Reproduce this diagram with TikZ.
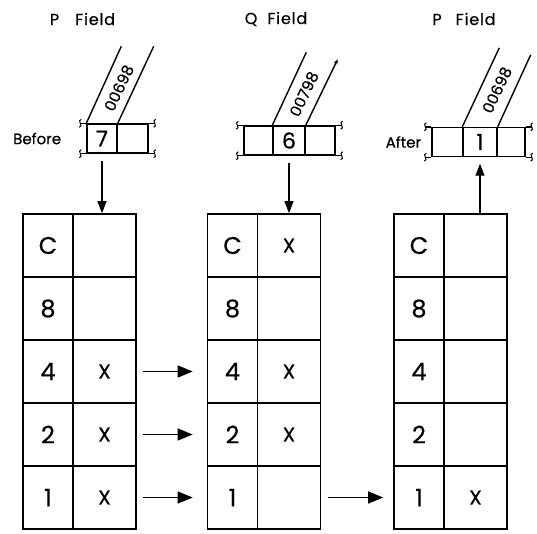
\documentclass[tikz,border=0pt]{standalone}
\usepackage{fontspec}
\setmainfont{Poppins}[FakeBold=0.6]
\usetikzlibrary{positioning, arrows.meta, calc}

\begin{document}
\begin{tikzpicture}[x=1pt, y=-1pt,
  every node/.style={font=\fontsize{22}{24}\selectfont},
  cell/.style={rectangle, draw, line width=1.7pt,
    minimum height=63pt, inner sep=0pt},
  lcell/.style={cell, minimum width=50pt, font=\fontsize{24}{26}\selectfont},
  rcell/.style={cell, minimum width=63pt, font=\fontsize{20}{22}\selectfont},
  reg/.style={rectangle, draw, line width=1.4pt,
    minimum height=29pt, inner sep=0pt},
  band/.style={line width=1.4pt},
  tag/.style={font=\fontsize{15.5}{17}\selectfont, rotate=65, inner sep=1pt},
  title/.style={font=\fontsize{16}{18}\selectfont\addfontfeatures{LetterSpace=5}},
  side/.style={font=\fontsize{15}{18}\selectfont, inner sep=0pt},
  feed/.style={line width=1.4pt, -{Triangle[length=15pt, width=12pt]}},
  drop/.style={line width=1.4pt, -{Triangle[length=12pt, width=9pt]}},
  brk/.pic={\draw[line width=1pt] (1,-4) .. controls (-4,-3) and (4,3) .. (-1,4);}
]
\useasboundingbox (0,0) rectangle (537,533);

% ---- Titles ----
\node[title] (ptitle) at (82.5,19) {P\hspace{16pt}Field};
\node[title] (qtitle) at (276,19) {Q\hspace{10pt}Field};
\node[title] (atitle) at (464,19) {P\hspace{14pt}Field};

% ---- P field, before ----
\node[reg, minimum width=30pt] (pb1) at (102,138.5) {7};
\node[reg, minimum width=31pt] (pb2) at (132.5,138.5) {};
\node[side, left=25pt of pb1] (before) {Before};

% ---- Q field ----
\node[reg, minimum width=29pt] (qb1) at (258.5,140.5) {};
\node[reg, minimum width=32pt] (qb2) at (289,140.5) {6};
\node[reg, minimum width=30pt] (qb3) at (320,140.5) {};

% ---- P field, after ----
\node[reg, minimum width=31pt] (ab1) at (447.5,142) {};
\node[reg, minimum width=34pt] (ab2) at (480,142) {1};
\node[reg, minimum width=28pt] (ab3) at (511,142) {};
\node[side, left=10pt of ab1] (after) {After};

% ---- Break marks at the register ends ----
\foreach \lft/\rgt in {pb1/pb2, qb1/qb3, ab1/ab3} {
  \draw[line width=1.4pt] (\lft.north west) -- ++(-6,0) pic {brk};
  \draw[line width=1.4pt] (\lft.south west) -- ++(-6,0) pic {brk};
  \draw[line width=1.4pt] (\rgt.north east) -- ++(6,0) pic {brk};
  \draw[line width=1.4pt] (\rgt.south east) -- ++(6,0) pic {brk};
}

% ---- Address bands ----
\coordinate (pbtopl) at ($(pb1.north west)+(35,-77)$);
\coordinate (pbtopr) at ($(pb1.north east)+(36,-77)$);
\draw[band] (pb1.north west) -- (pbtopl);
\draw[band] (pb1.north east) -- (pbtopr);
\node[tag] (pbaddr) at (119,88) {00698};

\coordinate (qbtopl) at ($(qb2.north west)+(34,-73)$);
\coordinate (qbtopr) at ($(qb2.north east)+(32,-66)$);
\draw[band] (qb2.north west) -- (qbtopl);
\draw[band, -{Stealth[length=5pt, width=4pt]}] (qb2.north east) -- (qbtopr);
\node[tag] (qbaddr) at (304,94) {00798};

\coordinate (abtopl) at ($(ab2.north west)+(37,-79)$);
\coordinate (abtopr) at ($(ab2.north east)+(33,-72)$);
\draw[band] (ab2.north west) -- (abtopl);
\draw[band] (ab2.north east) -- (abtopr);
\node[tag] (abaddr) at (497,90) {00698};

% ---- Tables ----
\foreach \lab/\mb/\mq/\ma [count=\r] in {C/{}/X/{}, 8/{}/{}/{}, 4/X/X/{}, 2/X/X/{}, 1/X/{}/X} {
  \pgfmathsetmacro\yy{182.5+63*\r}
  \node[lcell] (bl\r) at (48,\yy) {\lab};
  \node[rcell] (br\r) at (104.5,\yy) {\mb};
  \node[lcell] (ql\r) at (232.5,\yy) {\lab};
  \node[rcell] (qr\r) at (289,\yy) {\mq};
  \node[lcell] (al\r) at (419,\yy) {\lab};
  \node[rcell] (ar\r) at (475.5,\yy) {\ma};
}

% ---- Arrows: registers and tables ----
\draw[drop, shorten <=7pt] (pb1.south) -- (pb1.south |- br1.north);
\draw[drop, shorten <=7pt] (qb2.south) -- (qb2.south |- qr1.north);
\draw[drop, shorten >=6.5pt] (ab2.south |- ar1.north) -- (ab2.south);

% ---- Arrows: table to table ----
\foreach \r in {3,4,5}
  \draw[feed, shorten <=6pt, shorten >=14pt] (br\r.east) -- (ql\r.west);
\draw[feed, shorten <=7pt, shorten >=10pt] (qr5.east) -- (al5.west);

\end{tikzpicture}
\end{document}
